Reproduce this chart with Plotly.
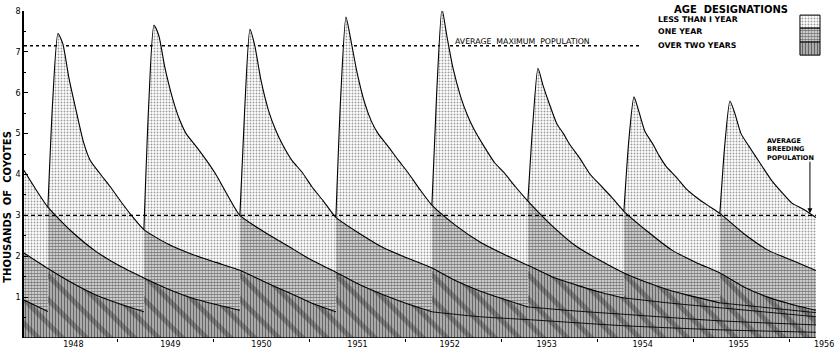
import plotly.graph_objects as go

# ---------------- data (thousands of coyotes) ----------------
BIRTH = 0.275                       # whelping date as fraction of the year
AGE_FIRST = [0.0, 0.05, 0.105, 0.155, 0.22, 0.30, 0.37, 0.44, 0.54, 0.65, 0.75, 0.87, 1.0]
TOTAL_1947 = [None, None, None, None, None, None, None, None, None, None, 4.10, 3.65, 3.20]
TOTAL_1948 = [3.20, 5.80, 7.45, 7.20, 6.35, 5.50, 4.80, 4.35, 4.03, 3.70, 3.37, 3.00, 2.65]
TOTAL_1949 = [2.65, 5.70, 7.65, 7.40, 6.60, 5.85, 5.35, 5.00, 4.70, 4.35, 4.00, 3.50, 3.00]
TOTAL_1950 = [3.00, 5.60, 7.55, 7.15, 6.30, 5.55, 5.10, 4.75, 4.35, 4.05, 3.70, 3.35, 2.95]
TOTAL_1951 = [2.95, 5.90, 7.85, 7.30, 6.50, 5.75, 5.30, 5.00, 4.70, 4.35, 4.05, 3.65, 3.25]
TOTAL_1952 = [3.25, 6.00, 8.05, 7.40, 6.60, 5.90, 5.45, 5.10, 4.70, 4.30, 4.05, 3.70, 3.35]
TOTAL_1953 = [3.35, 5.20, 6.60, 6.20, 5.75, 5.25, 5.00, 4.72, 4.40, 4.00, 3.75, 3.45, 3.10]
TOTAL_1954 = [3.10, 4.80, 5.90, 5.55, 5.05, 4.75, 4.45, 4.20, 3.95, 3.65, 3.45, 3.25, 3.05]
TOTAL_1955 = [3.05, 4.70, 5.80, 5.50, 5.00, 4.70, 4.45, 4.20, 3.85, 3.55, 3.30, 3.15, 2.95]

AGE_ADULT = [1.25, 1.5, 1.75, 2.0, 2.25, 2.5, 2.75, 3.0]
ADULT_1945 = [None, None, None, None, None, None, 0.93, 0.65]
ADULT_1946 = [None, None, 2.08, 1.70, 1.35, 1.05, 0.83, 0.64]
ADULT_1947 = [2.60, 2.12, 1.76, 1.47, 1.20, 0.98, 0.82, 0.68]
ADULT_1948 = [2.30, 2.05, 1.85, 1.66, 1.38, 1.12, 0.85, 0.64]
ADULT_1949 = [2.60, 2.25, 1.90, 1.61, 1.30, 1.05, 0.83, 0.64]
ADULT_1950 = [2.55, 2.20, 1.95, 1.71, 1.40, 1.15, 0.95, 0.76]
ADULT_1951 = [2.75, 2.35, 2.05, 1.78, 1.50, 1.30, 1.12, 0.98]
ADULT_1952 = [2.75, 2.25, 1.90, 1.59, 1.35, 1.15, 1.00, 0.86]
ADULT_1953 = [2.60, 2.15, 1.85, 1.59, 1.25, 1.00, 0.82, 0.68]
ADULT_1954 = [2.55, 2.15, 1.90, 1.65]
ADULT_1955 = []

AGE_OLD = [3.5, 4.0, 5.0, 6.0, 7.0]
OLD_1949 = [0.52, 0.45, 0.30, 0.20, 0.14]
OLD_1950 = [0.66, 0.58, 0.42, 0.32]
OLD_1951 = [0.85, 0.74, 0.52]
OLD_1952 = [0.74, 0.62]

AVG_MAX = 7.15
AVG_BREEDING = 3.0
YEAR_LABELS = ["1948", "1949", "1950", "1951", "1952", "1953", "1954", "1955", "1956"]
YEAR_LABEL_POS = [1948.54, 1949.55, 1950.50, 1951.50, 1952.46, 1953.47, 1954.47, 1955.47, 1956.36]
YEAR_TICKS = [1949, 1950, 1951, 1952, 1953, 1954, 1955, 1956]

COHORTS = [
    (1945, None, ADULT_1945, []),
    (1946, None, ADULT_1946, []),
    (1947, TOTAL_1947, ADULT_1947, []),
    (1948, TOTAL_1948, ADULT_1948, []),
    (1949, TOTAL_1949, ADULT_1949, OLD_1949),
    (1950, TOTAL_1950, ADULT_1950, OLD_1950),
    (1951, TOTAL_1951, ADULT_1951, OLD_1951),
    (1952, TOTAL_1952, ADULT_1952, OLD_1952),
    (1953, TOTAL_1953, ADULT_1953, []),
    (1954, TOTAL_1954, ADULT_1954, []),
    (1955, TOTAL_1955, ADULT_1955, []),
]

X0, X1 = 1948.026, 1956.474
END = 1955 + BIRTH + 1.0

curves = {}
for year, total, adult, old in COHORTS:
    b = year + BIRTH
    pts = []
    for grid, vals in ((AGE_FIRST, total or []), (AGE_ADULT, adult), (AGE_OLD, old)):
        for a, v in zip(grid, vals):
            if v is not None and b + a <= END + 1e-6:
                pts.append((b + a, v))
    curves[year] = pts


def pts_in(year, s, e):
    return [(t, v) for t, v in curves[year] if s - 1e-6 <= t <= e + 1e-6]


fig = go.Figure()

PUP = dict(shape=".", fgcolor="#3a3a3a", bgcolor="#ffffff", size=3, solidity=0.32)
ONE = dict(shape=".", fgcolor="#000000", bgcolor="#f2f2f2", size=3, solidity=0.62)
OVER = dict(shape="|", fgcolor="#111111", bgcolor="#b8b8b8", size=3, solidity=0.45)
MOIRE = dict(shape="\\", fgcolor="#1a1a1a", fgopacity=0.33, size=17, solidity=0.3,
             fillmode="overlay")


def add_poly(xs, ys, pattern, fillcolor=None):
    fig.add_trace(go.Scatter(x=xs, y=ys, mode="lines", line=dict(width=0),
                             fill="toself", fillcolor=fillcolor or pattern["bgcolor"],
                             fillpattern=pattern, hoverinfo="skip", showlegend=False))


segments = [(1948.0, 1948 + BIRTH, 1947)]
for y in range(1948, 1956):
    segments.append((y + BIRTH, y + 1 + BIRTH, y))

for s, e, c in segments:
    top = pts_in(c, s, e)
    mid = pts_in(c - 1, s, e)
    low = pts_in(c - 2, s, e)
    add_poly([p[0] for p in top] + [p[0] for p in mid[::-1]],
             [p[1] for p in top] + [p[1] for p in mid[::-1]], PUP)
    add_poly([p[0] for p in mid] + [p[0] for p in low[::-1]],
             [p[1] for p in mid] + [p[1] for p in low[::-1]], ONE)
    sx = [p[0] for p in low] + [low[-1][0], low[0][0]]
    sy = [p[1] for p in low] + [0, 0]
    add_poly(sx, sy, OVER)
    add_poly(sx, sy, MOIRE, fillcolor="rgba(0,0,0,0)")

# cohort lines
for year, total, adult, old in COHORTS:
    b = year + BIRTH
    main = [(t, v) for t, v in curves[year] if t - b <= 3.0 + 1e-6]
    inner = [(t, v) for t, v in curves[year] if t - b >= 3.0 - 1e-6]
    for seg, w in ((main, 1.1), (inner, 0.9)):
        if len(seg) > 1:
            fig.add_trace(go.Scatter(x=[p[0] for p in seg], y=[p[1] for p in seg], mode="lines",
                                     line=dict(color="black", width=w, shape="spline", smoothing=0.6),
                                     hoverinfo="skip", showlegend=False))

# legend swatches
sw_x = [1956.109, 1956.318]
for (ylo, yhi), pat in (((7.58, 7.90), PUP), ((7.24, 7.58), ONE), ((6.92, 7.24), OVER)):
    fig.add_trace(go.Scatter(x=[sw_x[0], sw_x[1], sw_x[1], sw_x[0], sw_x[0]],
                             y=[ylo, ylo, yhi, yhi, ylo], mode="lines",
                             line=dict(color="black", width=1), fill="toself",
                             fillcolor=pat["bgcolor"], fillpattern=pat,
                             hoverinfo="skip", showlegend=False))

FONT = "DejaVu Sans"
shapes = [
    dict(type="line", xref="x", yref="y", x0=X0, x1=END, y0=0, y1=0,
         line=dict(color="black", width=1.5)),
    dict(type="line", xref="x", yref="y", x0=X0, x1=1954.44, y0=AVG_MAX, y1=AVG_MAX,
         line=dict(color="black", width=1.3, dash="dot"), layer="below"),
    dict(type="line", xref="x", yref="y", x0=X0, x1=END, y0=AVG_BREEDING, y1=AVG_BREEDING,
         line=dict(color="black", width=1.1, dash="4px,3px")),
]

ann = [
    dict(text="<b>THOUSANDS  OF  COYOTES</b>", xref="paper", yref="paper", x=-0.0203, y=0.40,
         xanchor="center", yanchor="middle",
         textangle=-90, showarrow=False, font=dict(size=10, family=FONT, color="black")),
    dict(text="AVERAGE  MAXIMUM  POPULATION", xref="x", yref="y", x=1952.495, y=AVG_MAX,
         xanchor="left", yanchor="bottom", yshift=-2, showarrow=False,
         font=dict(size=7.8, family=FONT, color="black")),
    dict(text="<b>AGE  DESIGNATIONS</b>", xref="paper", yref="paper", x=0.8718, y=1.006,
         xanchor="center", yanchor="middle", showarrow=False,
         font=dict(size=10, family=FONT, color="black")),
    dict(text="<b>LESS THAN I YEAR</b>", xref="paper", yref="paper", x=0.7793, y=0.9725,
         xanchor="left", yanchor="middle", showarrow=False,
         font=dict(size=7.8, family=FONT, color="black")),
    dict(text="<b>ONE YEAR</b>", xref="paper", yref="paper", x=0.7793, y=0.9358,
         xanchor="left", yanchor="middle", showarrow=False,
         font=dict(size=7.8, family=FONT, color="black")),
    dict(text="<b>OVER TWO YEARS</b>", xref="paper", yref="paper", x=0.7793, y=0.896,
         xanchor="left", yanchor="middle", showarrow=False,
         font=dict(size=7.8, family=FONT, color="black")),
    dict(text="<b>AVERAGE<br>BREEDING<br>POPULATION</b>", xref="paper", yref="paper",
         x=0.9137, y=0.6208, xanchor="left", yanchor="top", align="left", showarrow=False,
         font=dict(size=6.5, family=FONT, color="black")),
    dict(text="", xref="x", yref="y", x=1956.213, y=AVG_BREEDING + 0.05,
         axref="x", ayref="y", ax=1956.213, ay=4.35, showarrow=True,
         arrowhead=2, arrowsize=1, arrowwidth=1, arrowcolor="black"),
]

fig.update_layout(
    width=835, height=351, autosize=False,
    margin=dict(l=24, r=0, t=11, b=13, pad=0),
    paper_bgcolor="white", plot_bgcolor="white",
    shapes=shapes, annotations=ann,
    xaxis=dict(range=[X0, X1], showline=False, showgrid=False, zeroline=False,
               tickmode="array", tickvals=YEAR_LABEL_POS, ticktext=YEAR_LABELS,
               ticks="", ticklabeloverflow="allow",
               tickfont=dict(size=8, family=FONT, color="black"),
               minor=dict(tickmode="array", tickvals=YEAR_TICKS, ticks="outside",
                          ticklen=3, tickwidth=1.2, tickcolor="black", showgrid=False)),
    yaxis=dict(range=[0, 8], showline=True, linecolor="black", linewidth=1.6,
               showgrid=False, zeroline=False, tickmode="array",
               tickvals=[1, 2, 3, 4, 5, 6, 7, 8], ticktext=["1", "2", "3", "4", "5", "6", "7", "8"],
               ticks="inside", ticklen=4, tickwidth=1.2, tickcolor="black",
               tickfont=dict(size=8, family=FONT, color="black"),
               minor=dict(dtick=0.5, ticks="inside", ticklen=2.5, tickwidth=1, tickcolor="black",
                          showgrid=False)),
)

fig.write_html("out.html")
